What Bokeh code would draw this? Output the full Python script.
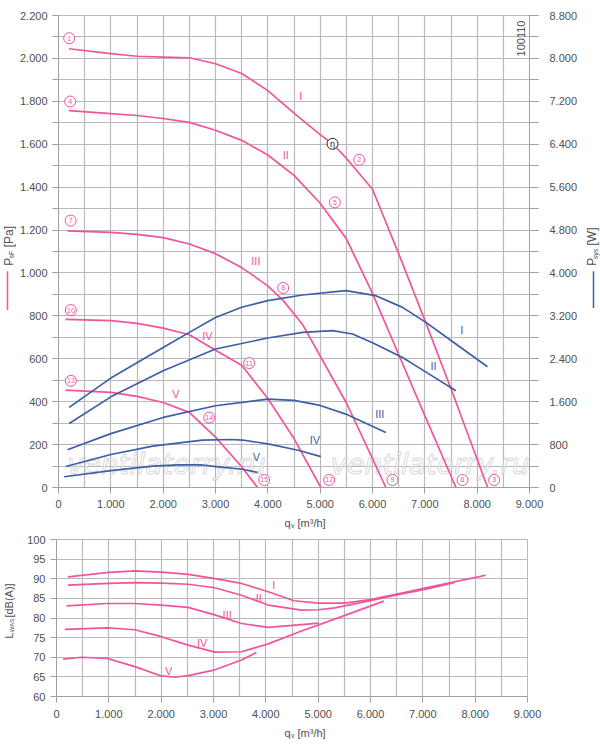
from math import pi
from bokeh.plotting import figure
from bokeh.models import Range1d, LinearAxis, FixedTicker, CustomJSTickFormatter
from bokeh.layouts import column, row
from bokeh.core.properties import value
from bokeh.embed import file_html
from bokeh.resources import INLINE

PINK = "#f0559c"
BLUE = "#3d5ea8"
GRID = "#b9b9b9"
AXC = "#a0a0a0"
TXT = "#505050"
FONT = "Liberation Sans"

# pressure curves P_sF [Pa] over q_v [m3/h], speeds I..V
q_p1 = [200, 1000, 1500, 2000, 2500, 3000, 3500, 4000, 4500, 5000, 5240, 5500, 6000, 6500, 7000, 7500, 8200]
p_p1 = [2045, 2022, 2010, 2006, 2003, 1975, 1930, 1850, 1745, 1645, 1601, 1535, 1390, 1090, 780, 460, 0]
q_p2 = [200, 1000, 1500, 2000, 2500, 3000, 3500, 4000, 4500, 5000, 5500, 6000, 6500, 7000, 7594]
p_p2 = [1757, 1743, 1734, 1720, 1702, 1665, 1618, 1550, 1455, 1325, 1160, 905, 620, 335, 0]
q_p3 = [170, 1000, 1500, 2000, 2500, 3000, 3500, 4000, 4300, 4663, 5000, 5500, 6000, 6255]
p_p3 = [1196, 1189, 1180, 1165, 1135, 1090, 1025, 940, 870, 760, 613, 395, 135, 0]
q_p4 = [134, 1000, 1500, 2000, 2500, 3000, 3500, 4000, 4500, 5013]
p_p4 = [784, 778, 765, 743, 712, 640, 570, 415, 228, 0]
q_p5 = [134, 1000, 1500, 2000, 2500, 3000, 3500, 3803]
p_p5 = [454, 443, 425, 396, 350, 235, 97, 0]

# power curves P_sys [W]
q_w1 = [204, 1000, 2000, 2500, 3000, 3500, 4000, 4663, 5490, 6064, 6574, 7020, 7600, 8197]
w_w1 = [1493, 2040, 2612, 2892, 3170, 3360, 3483, 3589, 3670, 3576, 3358, 3079, 2670, 2252]
q_w2 = [204, 1000, 2000, 3000, 4000, 4663, 5236, 5618, 6000, 6574, 7000, 7594]
w_w2 = [1194, 1690, 2177, 2582, 2787, 2892, 2924, 2862, 2700, 2425, 2165, 1804]
q_w3 = [172, 1000, 2000, 3000, 4000, 4500, 5000, 5490, 6255]
w_w3 = [703, 1005, 1306, 1524, 1649, 1625, 1530, 1369, 1026]
q_w4 = [140, 1000, 1800, 2750, 3300, 3516, 4026, 4600, 5013]
w_w4 = [392, 615, 770, 885, 895, 885, 810, 690, 575]
q_w5 = [108, 1000, 1800, 2300, 2750, 3006, 3516, 3803]
w_w5 = [200, 315, 400, 420, 420, 390, 340, 280]

# sound power L_WAS [dB(A)]
q_s1 = [220, 1000, 1500, 2000, 2516, 3000, 3535, 4045, 4538, 5000, 5500, 6000, 6574, 7038, 7600, 8200]
s_s1 = [90.5, 91.6, 92.0, 91.7, 91.1, 90.1, 88.8, 86.7, 84.4, 83.8, 83.8, 84.7, 86.3, 87.6, 89.2, 90.9]
q_s2 = [220, 1000, 1500, 2000, 2516, 3026, 3535, 4045, 4682, 5000, 5318, 6019, 6500, 7038, 7594]
s_s2 = [88.4, 88.8, 89.0, 88.9, 88.6, 87.7, 85.8, 83.3, 82.0, 82.1, 82.6, 84.5, 85.9, 87.3, 89.0]
q_s3 = [190, 968, 1497, 2000, 2516, 3026, 3535, 4045, 4682, 5013]
s_s3 = [83.1, 83.7, 83.7, 83.3, 82.7, 80.8, 78.6, 77.6, 78.3, 78.7]
q_s4 = [159, 968, 1497, 1987, 2516, 3026, 3535, 4045, 4682, 5500, 6255]
s_s4 = [77.1, 77.5, 77.0, 75.3, 73.1, 71.3, 71.4, 73.4, 76.7, 80.6, 84.3]
q_s5 = [127, 478, 968, 1497, 1987, 2250, 2516, 3026, 3535, 3822]
s_s5 = [69.5, 70.0, 69.7, 67.6, 65.3, 64.9, 65.3, 66.8, 69.3, 71.2]

speeds = ["I", "II", "III", "IV", "V"]
# label anchors
pl_q = [4630, 4344, 3771, 2847, 2242]
pl_p = [1827, 1552, 1054, 707, 436]
wl_q = [7708, 7166, 6140, 4899, 3784]
wl_p = [734, 564, 342, 222, 140]
sl_q = [4153, 3866, 3261, 2783, 2143]
sl_s = [88.4, 85.0, 80.8, 73.6, 66.6]

circ_q = [204, 5745, 8325, 223, 5281, 7720, 232, 4293, 6382, 237, 3644, 5172, 237, 2880, 3930]
circ_p = [2094, 1527, 35, 1799, 1329, 35, 1244, 930, 35, 827, 580, 35, 497, 326, 35]
circ_t = [str(i) for i in range(1, 16)]

x_ticks = list(range(0, 9001, 1000))
x_grid = list(range(0, 9001, 500))
p_ticks = list(range(0, 2201, 200))
p_minor = list(range(0, 2201, 100))
w_ticks = list(range(0, 8801, 800))
w_minor = list(range(0, 8801, 400))
s_ticks = list(range(60, 101, 5))

JS = r"return tick.toString().replace(/\B(?=(\d{3})+(?!\d))/g, '.');"


def style_axis(ax, out=6, standoff=5):
    ax.formatter = CustomJSTickFormatter(code=JS)
    ax.axis_line_color = AXC
    ax.major_tick_line_color = AXC
    ax.minor_tick_line_color = AXC
    ax.major_tick_out = out
    ax.major_tick_in = 0
    ax.minor_tick_out = out
    ax.minor_tick_in = 0
    ax.major_label_text_font = FONT
    ax.major_label_text_font_size = "11px"
    ax.major_label_text_color = TXT
    ax.major_label_standoff = standoff


def strip(w, h):
    # blank canvas in pixel units for texts that sit outside the plot frames
    s = figure(width=w, height=h, x_range=Range1d(0, w), y_range=Range1d(0, h),
               min_border=0, x_axis_location=None, y_axis_location=None,
               output_backend="svg", toolbar_location=None, tools="")
    s.xgrid.visible = False
    s.ygrid.visible = False
    s.outline_line_color = None
    return s


def put(s, x, y, text, size="12px", color=TXT, angle=0.0, align="left"):
    s.text(x=[x], y=[y], text=[text], angle=angle, text_font=value(FONT),
           text_font_size=size, text_color=color, text_align=align,
           text_baseline="middle")


# ---- top chart: pressure + power
p1 = figure(frame_width=471, frame_height=472, min_border_left=40, min_border_right=53,
            min_border_top=15, min_border_bottom=26,
            x_range=Range1d(0, 9000), y_range=Range1d(0, 2200),
            output_backend="svg", toolbar_location=None, tools="")
p1.extra_y_ranges = {"pw": Range1d(0, 8800)}
p1.outline_line_color = GRID
p1.xgrid.ticker = FixedTicker(ticks=x_grid)
p1.ygrid.ticker = FixedTicker(ticks=p_minor)
p1.grid.grid_line_color = GRID
p1.grid.grid_line_width = 1.2

p1.xaxis.ticker = FixedTicker(ticks=x_ticks, minor_ticks=[])
p1.yaxis.ticker = FixedTicker(ticks=p_ticks, minor_ticks=p_minor)
style_axis(p1.xaxis[0], 6, 6)
style_axis(p1.yaxis[0], 6, 5)
ax_r = LinearAxis(y_range_name="pw", ticker=FixedTicker(ticks=w_ticks, minor_ticks=w_minor))
style_axis(ax_r, 9, 11)
p1.add_layout(ax_r, "right")

# watermark
p1.text(x=[2064, 7100], y=[109, 109], text=["ventilatorry.ru", "ventilatorry.ru"],
        text_font=value("DejaVu Sans"), text_font_style="italic", text_font_size="28px",
        text_color="white", text_alpha=0.6, text_outline_color="#bdbdbd",
        text_align="center", text_baseline="alphabetic")

for q, pv in [(q_p1, p_p1), (q_p2, p_p2), (q_p3, p_p3), (q_p4, p_p4), (q_p5, p_p5)]:
    p1.line(q, pv, line_color=PINK, line_width=1.7, line_join="round")
for q, wv in [(q_w1, w_w1), (q_w2, w_w2), (q_w3, w_w3), (q_w4, w_w4), (q_w5, w_w5)]:
    p1.line(q, wv, line_color=BLUE, line_width=1.7, line_join="round", y_range_name="pw")

p1.text(x=pl_q, y=pl_p, text=speeds, text_font=value(FONT), text_font_size="11px",
        text_color=PINK, text_align="center", text_baseline="middle")
p1.text(x=wl_q, y=wl_p, text=speeds, text_font=value(FONT), text_font_size="11px",
        text_color=BLUE, text_align="center", text_baseline="middle")

p1.scatter(circ_q, circ_p, marker="circle", size=11, fill_color="white",
           line_color=PINK, line_width=1)
p1.text(x=circ_q, y=circ_p, text=circ_t, text_font=value(FONT), text_font_size="7px",
        text_color=PINK, text_align="center", text_baseline="middle")
p1.scatter([5236], [1602], marker="circle", size=11, fill_color="white",
           line_color="#222222", line_width=1)
p1.text(x=[5236], y=[1602], text=["η"], text_font=value(FONT), text_font_size="9px",
        text_color="#222222", text_align="center", text_baseline="middle")
p1.text(x=[8834], y=[2093], text=["100110"], angle=pi / 2, text_font=value(FONT),
        text_font_size="11px", text_color=TXT, text_align="center", text_baseline="middle")

# left title strip of the top chart (row height 513)
l1 = strip(16, 513)
put(l1, 8, 241, "P", "12px", TXT, pi / 2)
put(l1, 11, 249, "sF", "7px", TXT, pi / 2)
put(l1, 8, 261, "[Pa]", "12px", TXT, pi / 2)
l1.line([7, 7], [193, 235], line_color=PINK, line_width=1.5)

# right title strip of the top chart
r1 = strip(20, 513)
put(r1, 9.5, 241, "P", "12px", TXT, pi / 2)
put(r1, 12.5, 248, "sys", "7px", TXT, pi / 2)
put(r1, 9.5, 263, "[W]", "12px", TXT, pi / 2)
r1.line([11, 11], [195, 235], line_color=BLUE, line_width=1.5)

q1 = strip(600, 17)
put(q1, 284, 8, "q", "11px")
put(q1, 290.5, 5.5, "v", "7px")
put(q1, 297, 8, "[m³/h]", "11px")

# ---- bottom chart: sound power
p2 = figure(frame_width=471, frame_height=157, min_border_left=40, min_border_right=73,
            min_border_top=9, min_border_bottom=27,
            x_range=Range1d(0, 9000), y_range=Range1d(60, 100),
            output_backend="svg", toolbar_location=None, tools="")
p2.outline_line_color = GRID
p2.xgrid.ticker = FixedTicker(ticks=x_grid)
p2.ygrid.ticker = FixedTicker(ticks=s_ticks)
p2.grid.grid_line_color = GRID
p2.grid.grid_line_width = 1.2
p2.xaxis.ticker = FixedTicker(ticks=x_ticks, minor_ticks=[])
p2.yaxis.ticker = FixedTicker(ticks=s_ticks, minor_ticks=[])
style_axis(p2.xaxis[0], 6, 7)
style_axis(p2.yaxis[0], 6, 5)

for q, sv in [(q_s1, s_s1), (q_s2, s_s2), (q_s3, s_s3), (q_s4, s_s4), (q_s5, s_s5)]:
    p2.line(q, sv, line_color=PINK, line_width=1.7, line_join="round")
p2.text(x=sl_q, y=sl_s, text=speeds, text_font=value(FONT), text_font_size="11px",
        text_color=PINK, text_align="center", text_baseline="middle")

# row height 193: page y = 723 - strip y
l2 = strip(16, 193)
put(l2, 8, 71, "L", "11px", TXT, pi / 2)
put(l2, 11, 79, "WAS", "6px", TXT, pi / 2)
put(l2, 8, 97, "[dB(A)]", "11px", TXT, pi / 2)

q2 = strip(600, 18)
put(q2, 284, 9, "q", "11px")
put(q2, 290.5, 6.5, "v", "7px")
put(q2, 297, 9, "[m³/h]", "11px")

layout = column(row(l1, p1, r1), q1, row(l2, p2), q2)
open("out.html", "w").write(file_html(layout, INLINE))
